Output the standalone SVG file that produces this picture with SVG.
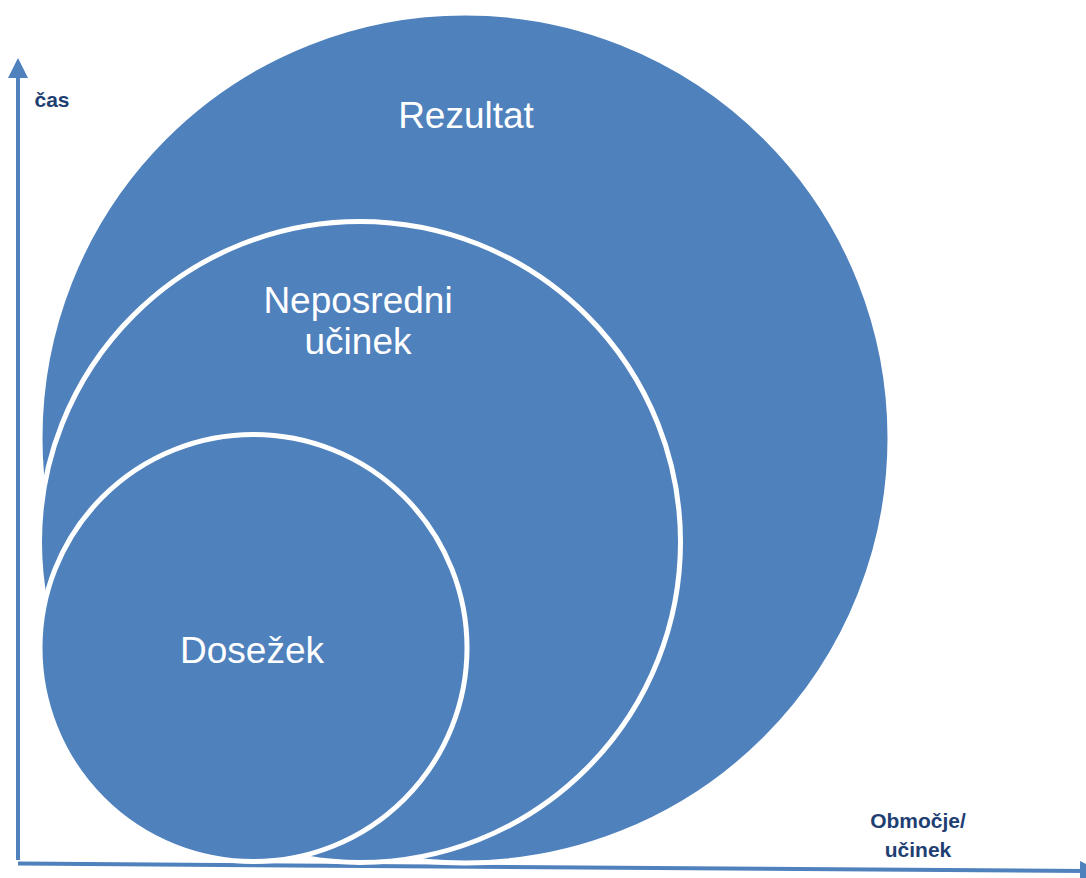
<svg xmlns="http://www.w3.org/2000/svg" width="1086" height="878" viewBox="0 0 1086 878">
<style>
.c{fill:#4F81BD;stroke:#FFFFFF;stroke-width:5}
.t{font-family:"Liberation Sans",Arial,sans-serif;fill:#FFFFFF;font-size:37px;text-anchor:middle}
.a{font-family:"Liberation Sans",Arial,sans-serif;fill:#1F3F73;font-size:21px;font-weight:bold;text-anchor:middle}
.ax{stroke:#4F81BD;stroke-width:4;fill:none}
</style>
<defs>
<marker id="ah" markerWidth="5" markerHeight="5" refX="3" refY="2.5" orient="auto" markerUnits="strokeWidth">
<path d="M0,0 L5,2.5 L0,5 Z" fill="#4F81BD"/>
</marker>
</defs>
<rect width="1086" height="878" fill="#FFFFFF"/>
<g id="connectors">
<line class="ax" x1="18" y1="860" x2="18" y2="66" marker-end="url(#ah)"/>
<line class="ax" x1="18" y1="863.5" x2="1092" y2="871" marker-end="url(#ah)"/>
</g>
<g id="rezultat">
<circle class="c" cx="465" cy="438" r="425"/>
<text class="t" x="466" y="128">Rezultat</text>
</g>
<g id="neposredni">
<circle class="c" cx="360" cy="542" r="320.5"/>
<text class="t" x="358" y="313">Neposredni</text>
<text class="t" x="358" y="354">učinek</text>
</g>
<g id="dosezek">
<circle class="c" cx="253.5" cy="648" r="213.5"/>
<text class="t" x="252" y="663">Dosežek</text>
</g>
<g id="labels">
<text class="a" x="52" y="107">čas</text>
<text class="a" x="918" y="828">Območje/</text>
<text class="a" x="918" y="857">učinek</text>
</g>
</svg>
